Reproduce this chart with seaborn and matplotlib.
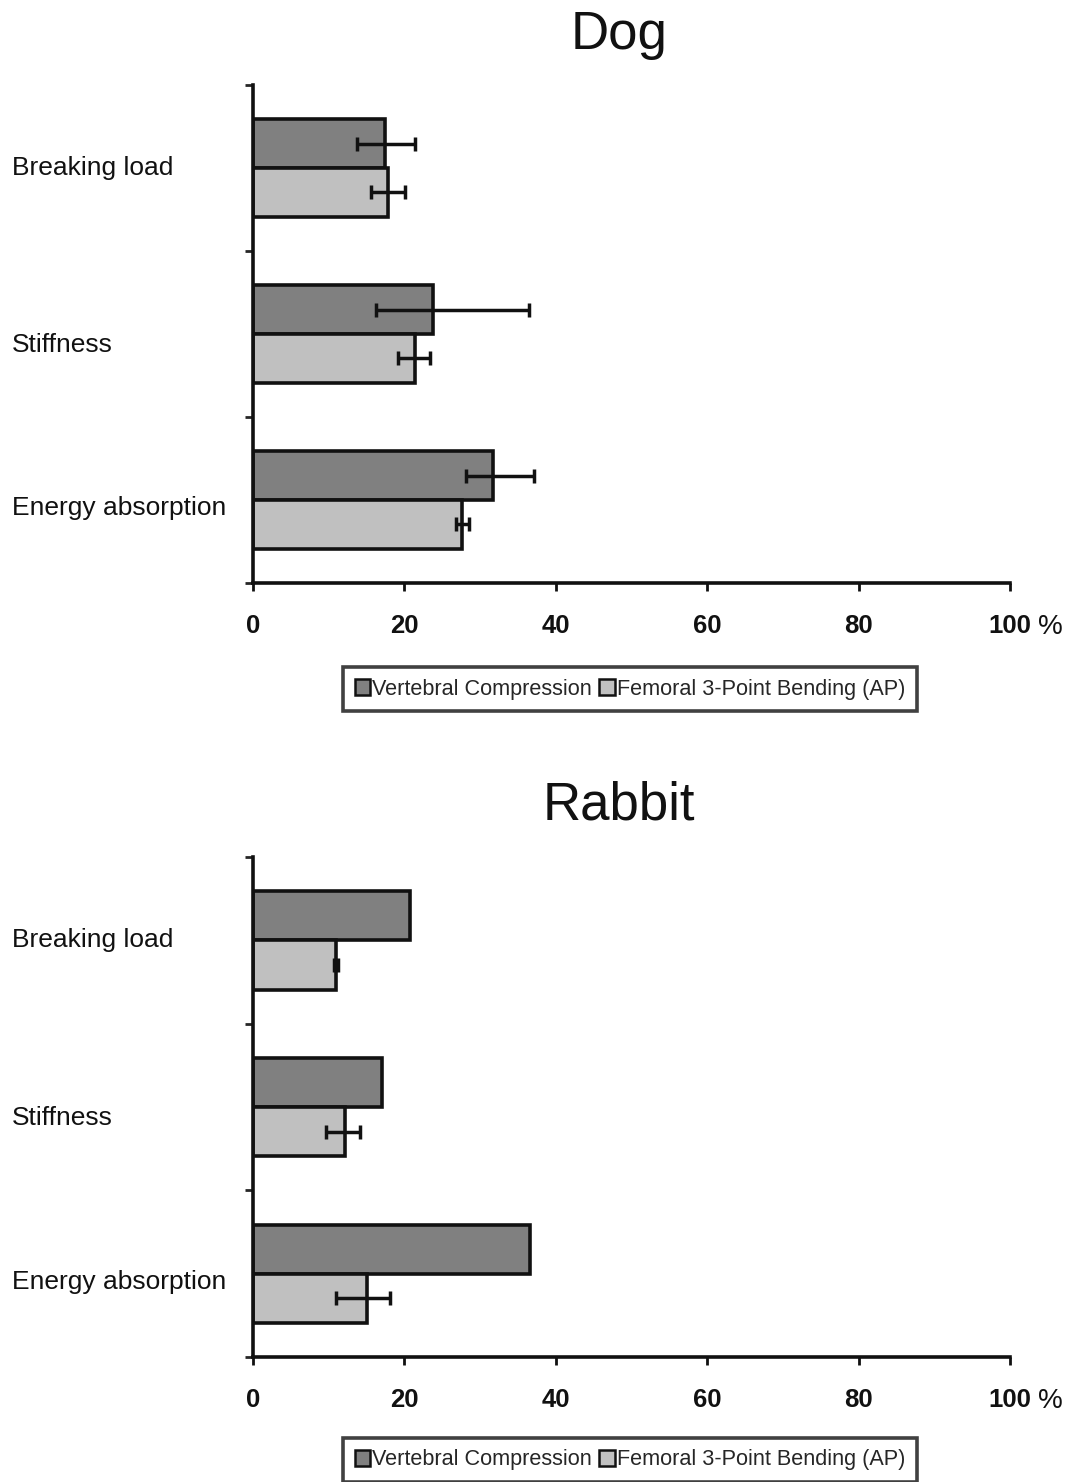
import matplotlib
matplotlib.use("Agg")
import matplotlib.pyplot as plt
import matplotlib.transforms as mtransforms
from matplotlib.patches import Patch
import seaborn as sns
import pandas as pd

# values (percent)
categories = ["Breaking load", "Stiffness", "Energy absorption"]
series = ["Vertebral Compression", "Femoral 3-Point Bending (AP)"]

dog_vc = [17.4, 23.8, 31.7]
dog_vc_lo = [3.7, 7.5, 3.5]
dog_vc_hi = [4.0, 12.6, 5.4]
dog_fb = [17.8, 21.4, 27.6]
dog_fb_lo = [2.2, 2.3, 0.8]
dog_fb_hi = [2.3, 2.0, 0.9]

rabbit_vc = [20.7, 17.0, 36.6]
rabbit_vc_lo = [0, 0, 0]
rabbit_vc_hi = [0, 0, 0]
rabbit_fb = [11.0, 12.1, 15.0]
rabbit_fb_lo = [0.25, 2.5, 4.0]
rabbit_fb_hi = [0.25, 2.1, 3.1]

xticks = [0, 20, 40, 60, 80, 100]
colors = ["#808080", "#c0c0c0"]

sns.set_style("white")
plt.rcParams["font.family"] = ["Liberation Sans", "DejaVu Sans"]

W, H = 1079, 1482
fig = plt.figure(figsize=(W / 100, H / 100), dpi=100)

# the category labels in the original sit a little below the group centres
label_shift = [0.0, 0.065, 0.05]


def make_panel(top, bottom, title, title_y, legend_y, vc, fb, errs):
    ax = fig.add_axes([253 / W, 1 - bottom / H, 757 / W, (bottom - top) / H])
    df = pd.DataFrame({
        "cat": categories * 2,
        "series": [series[0]] * 3 + [series[1]] * 3,
        "value": vc + fb,
    })
    sns.barplot(data=df, y="cat", x="value", hue="series", orient="h",
                palette=colors, width=0.59, edgecolor="#111111", linewidth=2.6,
                errorbar=None, legend=False, ax=ax)

    for cont, (lo, hi) in zip(ax.containers, errs):
        for bar, l, h in zip(cont, lo, hi):
            if l == 0 and h == 0:
                continue
            yc = bar.get_y() + bar.get_height() / 2
            ax.errorbar(bar.get_width(), yc, xerr=[[l], [h]], fmt="none",
                        ecolor="#111111", elinewidth=2.5, capsize=5, capthick=2.5)

    ax.set_xlim(0, 100)
    ax.set_ylim(2.5, -0.5)
    ax.set_xticks(xticks)
    ax.set_xticklabels([str(t) for t in xticks], fontsize=18.5, fontweight="bold")
    ax.set_yticks([-0.5, 0.5, 1.5, 2.5])
    ax.set_yticklabels([])
    ax.tick_params(axis="x", direction="out", length=6, width=2, pad=16,
                   bottom=True, colors="#111111")
    ax.tick_params(axis="y", direction="out", length=6, width=2, left=True)
    ax.set_xlabel("")
    ax.set_ylabel("")
    for side in ["top", "right"]:
        ax.spines[side].set_visible(False)
    for side in ["left", "bottom"]:
        ax.spines[side].set_linewidth(2.6)
        ax.spines[side].set_color("#111111")

    ax.annotate("%", xy=(100, 0), xycoords=("data", "axes fraction"),
                xytext=(20, -32), textcoords="offset points",
                ha="left", va="center", fontsize=20, color="#111111")

    tr = mtransforms.blended_transform_factory(fig.transFigure, ax.transData)
    for i, c in enumerate(categories):
        ax.text(12 / W, i + label_shift[i], c, transform=tr, ha="left",
                va="center", fontsize=19, color="#111111")

    fig.text(619 / W, 1 - title_y / H, title, ha="center", va="center",
             fontsize=38, color="#111111")

    handles = [Patch(facecolor=colors[0], edgecolor="#111111", linewidth=1.8),
               Patch(facecolor=colors[1], edgecolor="#111111", linewidth=1.8)]
    leg = ax.legend(handles, series, loc="center", ncol=2,
                    bbox_to_anchor=(630 / W, 1 - legend_y / H),
                    bbox_transform=fig.transFigure, fontsize=15.6,
                    frameon=True, fancybox=False, handlelength=0.7,
                    handleheight=0.7, handletextpad=0.1, columnspacing=0.35,
                    borderpad=0.55, borderaxespad=0)
    leg.get_frame().set_edgecolor("#111111")
    leg.get_frame().set_linewidth(2.6)
    return ax


make_panel(85, 583, "Dog", 35, 689, dog_vc, dog_fb,
           [(dog_vc_lo, dog_vc_hi), (dog_fb_lo, dog_fb_hi)])
make_panel(857, 1357, "Rabbit", 806, 1460, rabbit_vc, rabbit_fb,
           [(rabbit_vc_lo, rabbit_vc_hi), (rabbit_fb_lo, rabbit_fb_hi)])

fig.savefig("out.png", dpi=100)
